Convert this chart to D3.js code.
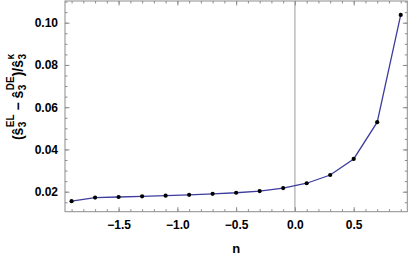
<!DOCTYPE html>
<html>
<head>
<meta charset="utf-8">
<script src="https://cdn.jsdelivr.net/npm/d3@7"></script>
<style>
  body { margin: 0; background: #fff; }
  text { font-family: "Liberation Sans", Arial, sans-serif; font-weight: bold; }
</style>
</head>
<body>
<svg class="chart"></svg>
<script>
// values
let nValues = [-1.9, -1.7, -1.5, -1.3, -1.1, -0.9, -0.7, -0.5, -0.3, -0.1, 0.1, 0.3, 0.5, 0.7, 0.9];
let ratioValues = [0.0155, 0.0172, 0.0175, 0.0178, 0.0181, 0.0185, 0.0190, 0.0195, 0.0203, 0.0217, 0.0240, 0.0279, 0.0355, 0.0529, 0.1037];
let xTicks = [-1.5, -1.0, -0.5, 0.0, 0.5];
let yTicks = [0.02, 0.04, 0.06, 0.08, 0.10];

let data = nValues.map((n, i) => ({n: n, v: ratioValues[i]}));

let svg = d3.select('.chart')
            .attr('width', 409)
            .attr('height', 256);

let fLeft = 65, fRight = 407.3, fTop = 1, fBottom = 211.7;

let xScale = d3.scaleLinear().domain([-1.956, 0.956]).range([fLeft, fRight]);
let yScale = d3.scaleLinear().domain([0.01053, 0.11027]).range([fBottom, fTop]);

let xMinor = d3.range(-1.9, 0.951, 0.1).map(d => Math.round(d * 10) / 10);
let yMinor = d3.range(0.015, 0.1101, 0.005).map(d => Math.round(d * 1000) / 1000);

let tickColor = '#8c8c8c';

let addAxis = (axis, tx, ty) => {
    let g = svg.append('g')
               .attr('transform', 'translate(' + tx + ',' + ty + ')')
               .call(axis);
    g.select('.domain').remove();
    g.selectAll('line').attr('stroke', tickColor);
    g.selectAll('text').attr('fill', '#000').style('font-size', '12px');
    return g;
};

// minor ticks (all four sides)
addAxis(d3.axisBottom(xScale).tickValues(xMinor).tickSize(-2.5).tickFormat(''), 0, fBottom);
addAxis(d3.axisTop(xScale).tickValues(xMinor).tickSize(-2.5).tickFormat(''), 0, fTop);
addAxis(d3.axisLeft(yScale).tickValues(yMinor).tickSize(-2.5).tickFormat(''), fLeft, 0);
addAxis(d3.axisRight(yScale).tickValues(yMinor).tickSize(-2.5).tickFormat(''), fRight, 0);

// major ticks
addAxis(d3.axisBottom(xScale).tickValues(xTicks).tickSize(-4.5).tickPadding(9)
          .tickFormat(d => d3.format('.1f')(d).replace('-', '\u2212')), 0, fBottom);
addAxis(d3.axisTop(xScale).tickValues(xTicks).tickSize(-4.5).tickFormat(''), 0, fTop);
addAxis(d3.axisLeft(yScale).tickValues(yTicks).tickSize(-4.5).tickPadding(7)
          .tickFormat(d3.format('.2f')), fLeft, 0);
addAxis(d3.axisRight(yScale).tickValues(yTicks).tickSize(-4.5).tickFormat(''), fRight, 0);

// frame
svg.append('rect')
   .attr('x', fLeft)
   .attr('y', fTop)
   .attr('width', fRight - fLeft)
   .attr('height', fBottom - fTop)
   .attr('fill', 'none')
   .attr('stroke', tickColor)
   .attr('stroke-width', 1);

// n = 0 line
svg.append('line')
   .attr('x1', xScale(0)).attr('x2', xScale(0))
   .attr('y1', fTop).attr('y2', fBottom)
   .attr('stroke', '#9a9a9a')
   .attr('stroke-width', 1);

let line = d3.line()
             .x(d => xScale(d.n))
             .y(d => yScale(d.v));

svg.append('path')
   .datum(data)
   .attr('d', line)
   .attr('fill', 'none')
   .attr('stroke', '#3d3d9e')
   .attr('stroke-width', 1.3);

svg.selectAll('circle')
   .data(data)
   .enter()
   .append('circle')
   .attr('cx', d => xScale(d.n))
   .attr('cy', d => yScale(d.v))
   .attr('r', 2.1)
   .attr('fill', '#000');

// x label
svg.append('text')
   .attr('x', (fLeft + fRight) / 2)
   .attr('y', 253)
   .attr('text-anchor', 'middle')
   .style('font-size', '13px')
   .text('n');

// y label: (s^EL_3 - s^DE_3)/s^k_3 with hats
let ylab = svg.append('text')
              .attr('transform', 'translate(23,97) rotate(-90)')
              .attr('text-anchor', 'middle')
              .style('font-size', '14px');

let pieces = [
    ['(\u015D', 0, 0, 14],
    ['3', 0.5, 3, 10],
    ['EL', -5.6, -12, 10],
    [' \u2212 \u015D', 0, 9, 14],
    ['3', 0.5, 3, 10],
    ['DE', -5.6, -12, 10],
    [')/\u015D', 0, 9, 14],
    ['3', 0.5, 3, 10],
    ['\u03BA', -5.6, -12, 10]
];
pieces.forEach(p => {
    ylab.append('tspan')
        .attr('dx', p[1])
        .attr('dy', p[2])
        .style('font-size', p[3] + 'px')
        .text(p[0]);
});
</script>
</body>
</html>
